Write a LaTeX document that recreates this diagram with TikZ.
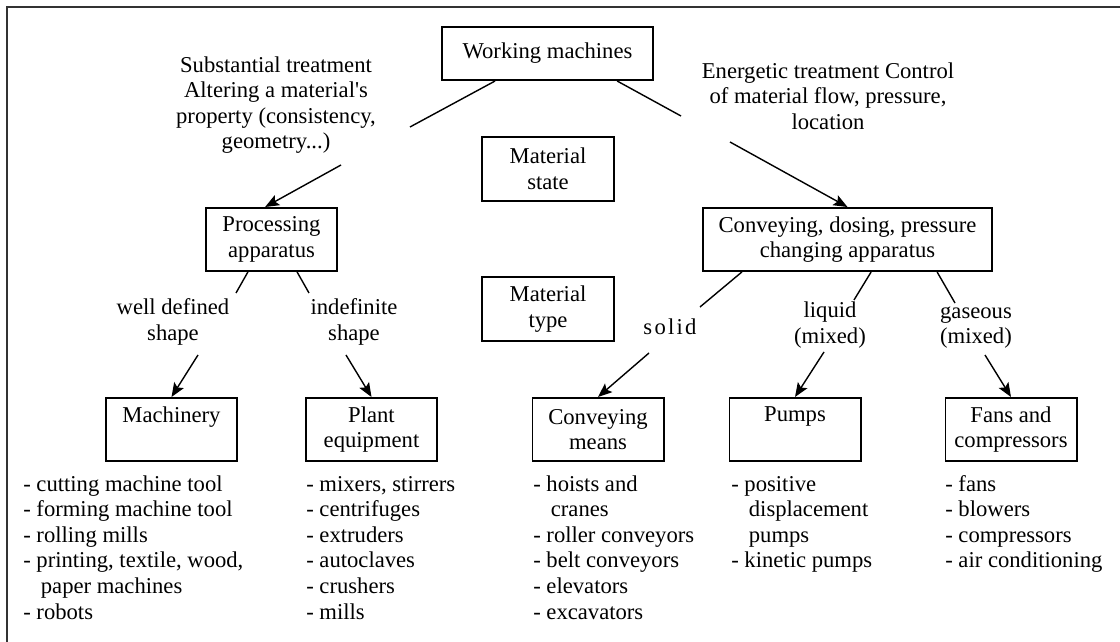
\documentclass[tikz,border=0pt]{standalone}
\usepackage{fontspec}
\setmainfont{Liberation Serif}
\usetikzlibrary{arrows.meta}

\begin{document}
\begin{tikzpicture}[x=0.025cm, y=-0.025cm,
	font=\fontsize{16.1}{18.2}\selectfont,
	box/.style={draw, line width=1.4pt, align=center, inner sep=0pt, minimum width=3.275cm, minimum height=1.575cm},
	txt/.style={align=center, inner sep=0pt},
	lst/.style={align=left, inner sep=0pt, anchor=north west},
	conn/.style={line width=1pt},
	arr/.style={line width=1pt, -{Stealth[length=10pt, width=8pt, inset=2pt]}}]

	\useasboundingbox (0,0) rectangle (1120,642);
	\draw[black!80, line width=1.6pt] (7,642) -- (7,7) -- (1120,7);

	\node[box, minimum width=5.275cm, minimum height=1.325cm] (wm) at (547.5,53.5) {Working machines};
	\node[box, minimum width=3.3cm, minimum height=1.6cm] (ms) at (548,169) {Material\\state};
	\node[box, minimum width=3.3cm, minimum height=1.6cm] (mt) at (548,309) {Material\\type};
	\node[box] (pa) at (271.5,239.5) {Processing\\apparatus};
	\node[box, minimum width=7.225cm] (cd) at (847.5,239.5) {Conveying, dosing, pressure\\changing apparatus};
	\node[box] (mach) at (171.5,429.5) {Machinery\\\phantom{p}};
	\node[box] (plant) at (371.5,429.5) {Plant\\equipment};
	\node[box] (cm) at (598,429.5) {Conveying\\means};
	\node[box] (pumps) at (795,429.5) {Pumps\\\phantom{p}};
	\node[box] (fans) at (1011,429.5) {Fans and\\compressors};

	\node[txt] (sub) at (276,105) {Substantial treatment\\Altering a material\textquotesingle s\\property (consistency,\\geometry...)};
	\node[txt] (ene) at (828,96) {Energetic treatment Control\\of material flow, pressure,\\location};
	\node[txt] (wd) at (173,322) {well defined\\shape};
	\node[txt] (ind) at (354,322) {indefinite\\shape};
	\node[txt] (sol) at (670,327) {\addfontfeature{LetterSpace=10}solid};
	\node[txt] (liq) at (830,325) {liquid\\(mixed)};
	\node[txt] (gas) at (976,327.5) {gaseous\\(mixed)};

	\node[lst] (machL) at (23,473) {\strut- cutting machine tool\\- forming machine tool\\- rolling mills\\- printing, textile, wood,\\\hspace*{0.44cm}paper machines\\- robots};
	\node[lst] (plantL) at (306,473) {\strut- mixers, stirrers\\- centrifuges\\- extruders\\- autoclaves\\- crushers\\- mills};
	\node[lst] (cmL) at (533,473) {\strut- hoists and\\\hspace*{0.44cm}cranes\\- roller conveyors\\- belt conveyors\\- elevators\\- excavators};
	\node[lst] (pumpsL) at (731,473) {\strut- positive\\\hspace*{0.44cm}displacement\\\hspace*{0.44cm}pumps\\- kinetic pumps};
	\node[lst] (fansL) at (945,473) {\strut- fans\\- blowers\\- compressors\\- air conditioning};

	\coordinate (subA) at (410,127);
	\coordinate (subB) at (341,165);
	\coordinate (eneA) at (681,116);
	\coordinate (eneB) at (730,142);
	\draw[conn] ([xshift=-1.31cm]wm.south) -- (subA);
	\draw[arr] (subB) -- ([xshift=-0.16cm]pa.north);
	\draw[conn] ([xshift=1.74cm]wm.south) -- (eneA);
	\draw[arr] (eneB) -- (cd.north);

	\coordinate (wdA) at (236,293);
	\coordinate (wdB) at (198,355);
	\coordinate (indA) at (309,293);
	\coordinate (indB) at (346,355);
	\coordinate (solA) at (700,307);
	\coordinate (solB) at (649,353);
	\coordinate (liqA) at (854,300);
	\coordinate (liqB) at (824,352);
	\coordinate (gasA) at (955,303);
	\coordinate (gasB) at (985,355);

	\foreach \s/\e in {-0.59/wdA, 0.64/indA}
		\draw[conn] ([xshift=\s cm]pa.south) -- (\e);
	\foreach \s/\e in {-2.64/solA, 0.59/liqA, 2.24/gasA}
		\draw[conn] ([xshift=\s cm]cd.south) -- (\e);
	\foreach \b/\t in {wdB/mach, indB/plant, solB/cm, liqB/pumps, gasB/fans}
		\draw[arr] (\b) -- (\t.north);
\end{tikzpicture}
\end{document}
